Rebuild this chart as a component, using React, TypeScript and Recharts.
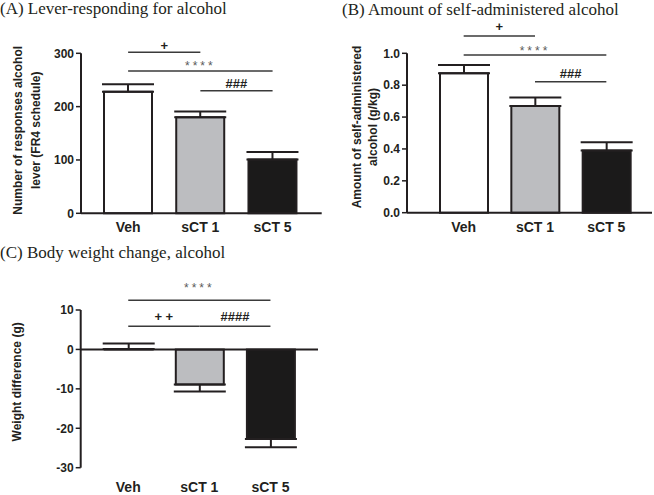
import React from "react";
import { Bar, BarChart, Cell, ErrorBar, ReferenceLine, XAxis, YAxis } from "recharts";

const groups = ["Veh", "sCT 1", "sCT 5"];
const fills = ["#ffffff", "#bcbdc0", "#1b1a1a"];

const leverMeans = [228, 180, 101];
const leverErr = [14, 11, 14];
const leverTicks = [0, 100, 200, 300];

const amountMeans = [0.875, 0.669, 0.39];
const amountErr = [0.052, 0.053, 0.052];
const amountTicks = [0, 0.2, 0.4, 0.6, 0.8, 1.0];

const weightMeans = [0.1, -8.9, -22.7];
const weightErr = [1.4, 1.8, 2.1];
const weightTicks = [-30, -20, -10, 0, 10];

// significance brackets: [from, to, level, label, text lift]
type Sig = [string, string, number, string, number];
const leverSig: Sig[] = [
  ["Veh", "sCT 1", 302, "+", 2.5],
  ["Veh", "sCT 5", 267, "****", 1],
  ["sCT 1", "sCT 5", 230, "###", 2.5],
];
const amountSig: Sig[] = [
  ["Veh", "sCT 1", 1.109, "+", 4.8],
  ["Veh", "sCT 5", 0.989, "****", 0.5],
  ["sCT 1", "sCT 5", 0.822, "###", 3.4],
];
const weightSig: Sig[] = [
  ["Veh", "sCT 5", 12.5, "****", 8],
  ["Veh", "sCT 1", 5.9, "+ +", 4.8],
  ["sCT 1", "sCT 5", 5.9, "####", 5],
];

const INK = "#231f20";
const SANS = '"Liberation Sans", Arial, sans-serif';
const SERIF = '"Liberation Serif", "Times New Roman", serif';

function toRows(means: number[], errs: number[]) {
  return groups.map((group, i) => ({
    group,
    mean: means[i],
    err: means[i] >= 0 ? [0, errs[i]] : [errs[i], 0],
  }));
}

function sigLabel(text: string, lift: number) {
  const stars = text.startsWith("*");
  return (props: any) => {
    const vb = props.viewBox || {};
    const x = (vb.x ?? 0) + (vb.width ?? 0) / 2;
    const y = vb.y ?? 0;
    return (
      <text
        x={x}
        y={y - lift}
        textAnchor="middle"
        fontFamily={SANS}
        fontSize={stars ? 12 : 13}
        fontWeight={stars ? 400 : 700}
        letterSpacing={stars ? 3 : 0}
        fill={stars ? "#5a5a5a" : INK}
      >
        {text}
      </text>
    );
  };
}

function yTitle(lines: string[], xs: number[], shift: number) {
  return (props: any) => {
    const vb = props.viewBox || {};
    const cy = (vb.y ?? 0) + (vb.height ?? 0) / 2 + shift;
    return (
      <g>
        {lines.map((line, i) => (
          <text
            key={line}
            x={xs[i]}
            y={cy}
            transform={`rotate(-90, ${xs[i]}, ${cy})`}
            textAnchor="middle"
            fontFamily={SANS}
            fontSize={12}
            fontWeight={700}
            fill={INK}
          >
            {line}
          </text>
        ))}
      </g>
    );
  };
}

type PanelProps = {
  left: number;
  top: number;
  width: number;
  height: number;
  margin: { top: number; right: number; bottom: number; left: number };
  yWidth: number;
  xHeight: number;
  tickGap: number;
  pad: { left: number; right: number };
  means: number[];
  errs: number[];
  ticks: number[];
  domain: [number, number];
  fmt?: (v: number) => string;
  sig: Sig[];
  titleLines: string[];
  titleXs: number[];
  titleShift: number;
  zeroLine?: boolean;
};

function Panel(p: PanelProps) {
  const rows = toRows(p.means, p.errs);
  return (
    <div style={{ position: "absolute", left: p.left, top: p.top }}>
      <BarChart width={p.width} height={p.height} data={rows} margin={p.margin}>
        <XAxis
          dataKey="group"
          height={p.xHeight}
          tickLine={false}
          tickSize={0}
          tickMargin={p.tickGap}
          padding={p.pad}
          axisLine={p.zeroLine ? false : { stroke: INK, strokeWidth: 2 }}
          tick={{ fontFamily: SANS, fontSize: 14, fontWeight: 700, fill: INK }}
        />
        <YAxis
          width={p.yWidth}
          domain={p.domain}
          ticks={p.ticks}
          interval={0}
          tickSize={5}
          tickMargin={2}
          tickFormatter={p.fmt}
          axisLine={{ stroke: INK, strokeWidth: 2 }}
          tickLine={{ stroke: INK, strokeWidth: 1.5 }}
          tick={{ fontFamily: SANS, fontSize: 12, fontWeight: 700, fill: INK }}
          label={{ content: yTitle(p.titleLines, p.titleXs, p.titleShift) }}
        />
        <Bar dataKey="mean" barSize={48} stroke={INK} strokeWidth={2} isAnimationActive={false}>
          {rows.map((r, i) => (
            <Cell key={r.group} fill={fills[i]} />
          ))}
          <ErrorBar dataKey="err" width={26} stroke={INK} strokeWidth={2} isAnimationActive={false} />
        </Bar>
        {p.zeroLine && <ReferenceLine y={0} stroke={INK} strokeWidth={2} />}
        {p.sig.map(([a, b, level, text, lift]) => (
          <ReferenceLine
            key={a + b + text}
            segment={[
              { x: a, y: level },
              { x: b, y: level },
            ]}
            ifOverflow="visible"
            stroke="#3a3a3a"
            strokeWidth={1.5}
            label={{ content: sigLabel(text, lift) }}
          />
        ))}
      </BarChart>
    </div>
  );
}

const titleStyle: React.CSSProperties = {
  position: "absolute",
  fontFamily: SERIF,
  fontSize: 17,
  color: INK,
  whiteSpace: "nowrap",
  lineHeight: "17px",
};

export default function App() {
  return (
    <div style={{ position: "absolute", left: 0, top: 0, width: 654, height: 495, background: "#fff", overflow: "hidden" }}>
      <div style={{ ...titleStyle, left: 0, top: 0 }}>(A) Lever-responding for alcohol</div>
      <div style={{ ...titleStyle, left: 342, top: 1 }}>(B) Amount of self-administered alcohol</div>
      <div style={{ ...titleStyle, left: 0, top: 244 }}>(C) Body weight change, alcohol</div>

      <Panel
        left={0}
        top={0}
        width={330}
        height={245}
        margin={{ top: 53.3, right: 8.3, bottom: 0, left: 0 }}
        yWidth={81}
        xHeight={31.7}
        tickGap={8.7}
        pad={{ left: 11, right: 13 }}
        means={leverMeans}
        errs={leverErr}
        ticks={leverTicks}
        domain={[0, 300]}
        sig={leverSig}
        titleLines={["Number of responses alcohol", "lever (FR4 schedule)"]}
        titleXs={[22, 40]}
        titleShift={-3}
      />
      <Panel
        left={330}
        top={0}
        width={324}
        height={245}
        margin={{ top: 53.3, right: 2, bottom: 0, left: 0 }}
        yWidth={77}
        xHeight={32.3}
        tickGap={9}
        pad={{ left: 21, right: 10 }}
        means={amountMeans}
        errs={amountErr}
        ticks={amountTicks}
        domain={[0, 1]}
        fmt={(v: number) => v.toFixed(1)}
        sig={amountSig}
        titleLines={["Amount of self-administered", "alcohol (g/kg)"]}
        titleXs={[31, 47]}
        titleShift={-6}
      />
      <Panel
        left={0}
        top={240}
        width={330}
        height={255}
        margin={{ top: 70, right: 12, bottom: 0, left: 0 }}
        yWidth={80.7}
        xHeight={27.3}
        tickGap={14}
        pad={{ left: 12, right: 12 }}
        means={weightMeans}
        errs={weightErr}
        ticks={weightTicks}
        domain={[-30, 10]}
        sig={weightSig}
        titleLines={["Weight difference (g)"]}
        titleXs={[21]}
        titleShift={-7}
        zeroLine
      />
    </div>
  );
}
